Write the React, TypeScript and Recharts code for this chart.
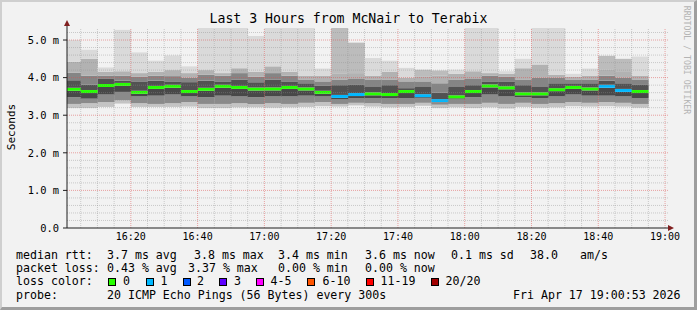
import React from 'react';
import { BarChart, Bar, XAxis, YAxis, ReferenceLine, Cell } from 'recharts';

// 5-minute slots (start time), values in milliseconds
const slotStart = [
  '16:00', '16:05', '16:10', '16:15', '16:20', '16:25', '16:30', '16:35', '16:40', '16:45',
  '16:50', '16:55', '17:00', '17:05', '17:10', '17:15', '17:20', '17:25', '17:30', '17:35',
  '17:40', '17:45', '17:50', '17:55', '18:00', '18:05', '18:10', '18:15', '18:20', '18:25',
  '18:30', '18:35', '18:40', '18:45', '18:50',
];
const minRtt = [
  3.19, 3.19, 3.22, 3.31, 3.22, 3.22, 3.22, 3.23, 3.19, 3.19,
  3.21, 3.21, 3.20, 3.21, 3.22, 3.24, 3.23, 3.26, 3.23, 3.21,
  3.22, 3.25, 3.19, 3.21, 3.19, 3.21, 3.18, 3.22, 3.20, 3.21,
  3.24, 3.23, 3.24, 3.23, 3.20,
];
const lowOuter = [
  3.30, 3.32, 3.35, 3.40, 3.32, 3.30, 3.32, 3.35, 3.30, 3.30,
  3.32, 3.30, 3.32, 3.30, 3.33, 3.35, 3.30, 3.33, 3.32, 3.30,
  3.30, 3.33, 3.28, 3.30, 3.30, 3.33, 3.30, 3.33, 3.30, 3.32,
  3.35, 3.33, 3.35, 3.33, 3.30,
];
const lowInner = [
  3.48, 3.44, 3.55, 3.62, 3.50, 3.52, 3.55, 3.50, 3.48, 3.52,
  3.50, 3.48, 3.50, 3.50, 3.52, 3.50, 3.42, 3.45, 3.45, 3.45,
  3.45, 3.45, 3.35, 3.42, 3.48, 3.55, 3.50, 3.48, 3.45, 3.50,
  3.55, 3.52, 3.52, 3.50, 3.45,
];
const medianRtt = [
  3.69, 3.63, 3.79, 3.82, 3.61, 3.74, 3.77, 3.63, 3.69, 3.77,
  3.74, 3.70, 3.70, 3.74, 3.70, 3.61, 3.50, 3.55, 3.57, 3.55,
  3.63, 3.52, 3.39, 3.49, 3.63, 3.78, 3.73, 3.57, 3.57, 3.68,
  3.74, 3.70, 3.77, 3.66, 3.63,
];
const highInner = [
  3.93, 3.81, 3.98, 3.92, 3.90, 3.92, 3.90, 3.88, 3.92, 3.90,
  3.95, 3.88, 3.95, 3.90, 3.85, 3.78, 3.80, 3.82, 3.75, 3.80,
  3.72, 3.75, 3.60, 3.75, 3.80, 3.90, 3.90, 3.80, 3.75, 3.85,
  3.85, 3.85, 3.92, 3.85, 3.82,
];
const highMid = [
  4.13, 4.05, 4.05, 4.05, 4.02, 4.05, 4.04, 4.00, 4.08, 4.05,
  4.12, 4.02, 4.12, 4.05, 3.95, 3.90, 3.95, 3.98, 3.95, 3.95,
  3.90, 3.90, 3.85, 3.95, 3.98, 4.05, 4.02, 3.95, 4.00, 4.00,
  3.95, 3.95, 4.05, 4.00, 3.95,
];
const highOuter = [
  4.42, 4.50, 4.15, 4.17, 4.12, 4.15, 4.20, 4.12, 4.20, 4.12,
  4.25, 4.15, 4.30, 4.15, 4.05, 4.05, 4.10, 4.12, 4.05, 4.15,
  4.00, 4.02, 4.05, 4.10, 4.17, 4.12, 4.10, 4.25, 4.35, 4.08,
  4.02, 4.05, 4.22, 4.15, 4.05,
];
const maxRtt = [
  5.00, 4.74, 4.27, 5.27, 4.67, 4.45, 4.59, 4.30, 5.90, 5.80,
  5.70, 5.11, 5.80, 5.60, 5.70, 4.24, 5.90, 4.93, 4.52, 4.45,
  4.26, 4.21, 4.19, 4.21, 5.80, 5.60, 4.17, 4.50, 5.90, 5.70,
  4.10, 4.24, 4.58, 4.50, 4.56,
];
const lossCount = [
  0, 0, 0, 0, 0, 0, 0, 0, 0, 0,
  0, 0, 0, 0, 0, 0, 1, 1, 0, 0,
  0, 1, 1, 0, 0, 0, 0, 0, 0, 0,
  0, 0, 1, 1, 0,
];

const lossLabels = ['0', '1', '2', '3', '4-5', '6-10', '11-19', '20/20'];
const lossColors = ['#26ff00', '#00b8ff', '#0059ff', '#5e00ff', '#ff00ff', '#ff5500', '#ff0000', '#a10000'];
const lossLimits = [0, 1, 2, 3, 5, 10, 19, 20];

const timeTicks = ['16:20', '16:40', '17:00', '17:20', '17:40', '18:00', '18:20', '18:40', '19:00'];
const rttTicks = [0, 1, 2, 3, 4, 5];

const toMin = (s: string) => {
  const [h, m] = s.split(':').map(Number);
  return (h - 16) * 60 + m;
};
const fmtTime = (v: number) => {
  const h = 16 + Math.floor(v / 60);
  const m = Math.round(v % 60);
  return `${h}:${m < 10 ? '0' : ''}${m}`;
};
const lossColor = (n: number) => lossColors[lossLimits.findIndex(l => n <= l)];

const X_START = 53 / 60; // 16:00:53
const X_END = 180 + 53 / 60;
const MED_HALF = 0.04;

const rows = slotStart.map((s, i) => ({
  t: toMin(s) + 2.5,
  base: minRtt[i],
  s1: lowOuter[i] - minRtt[i],
  s2: lowInner[i] - lowOuter[i],
  s3: medianRtt[i] - MED_HALF - lowInner[i],
  med: MED_HALF * 2,
  s4: highInner[i] - medianRtt[i] - MED_HALF,
  s5: highMid[i] - highInner[i],
  s6: highOuter[i] - highMid[i],
  s7: maxRtt[i] - highOuter[i],
  loss: lossCount[i],
}));

const minorX: number[] = [];
for (let m = 5; m <= 180; m += 5) if (m % 20 !== 0) minorX.push(m);
const majorX = timeTicks.map(toMin);
const minorY: number[] = [];
for (let k = 1; k <= 26; k++) if (k % 5 !== 0) minorY.push(k / 5);
const majorY = rttTicks.filter(v => v > 0);

const mono = '"DejaVu Sans Mono", monospace';
const legendRow: React.CSSProperties = { position: 'absolute', fontFamily: mono, fontSize: 11.6, lineHeight: '13px', whiteSpace: 'pre', color: '#000' };

const Txt = ({ x, y, children }: { x: number; y: number; children: React.ReactNode }) => (
  <div style={{ ...legendRow, left: x, top: y - 6.5 }}>{children}</div>
);

const boxX = [108, 145.5, 182.5, 219, 256, 307, 366, 430.5];
const labelX = [123, 160.5, 197, 234, 270.5, 322.5, 380.5, 445.5];

export default function App() {
  return (
    <div style={{ position: 'relative', width: 697, height: 310, background: '#f2f2f2', boxSizing: 'border-box', overflow: 'hidden' }}>
      <style>{'body{margin:0}'}</style>
      <div style={{ position: 'absolute', left: 0, top: 0, width: 697, height: 310, boxSizing: 'border-box', borderTop: '2px solid #cfcfcf', borderLeft: '2px solid #cfcfcf', borderRight: '3px solid #9e9e9e', borderBottom: '3px solid #9e9e9e' }} />
      <div style={{ position: 'absolute', left: 0, width: 697, top: 11, textAlign: 'center', fontFamily: mono, fontSize: 13.2, lineHeight: '16px', color: '#000' }}>
        Last 3 Hours from McNair to Terabix
      </div>
      <div style={{ position: 'absolute', left: 11, top: 127, transform: 'translate(-50%, -50%) rotate(-90deg)', fontFamily: mono, fontSize: 11, whiteSpace: 'pre', color: '#000' }}>
        Seconds
      </div>
      <div style={{ position: 'absolute', left: 687, top: 60, transform: 'translate(-50%, -50%) rotate(90deg)', fontFamily: mono, fontSize: 8.2, whiteSpace: 'pre', color: '#b4b4b4' }}>
        RRDTOOL / TOBI OETIKER
      </div>
      <div style={{ position: 'absolute', left: 0, top: 0 }}>
        <BarChart width={697} height={310} data={rows} margin={{ top: 28, right: 29, bottom: 62, left: 0 }} barCategoryGap={0} barGap={0}>
          <XAxis dataKey="t" type="number" domain={[X_START, X_END]} allowDataOverflow ticks={majorX} interval={0}
            tickFormatter={fmtTime} height={20} axisLine={{ stroke: '#1f1f1f' }} tickLine={false} tickSize={2} tickMargin={3}
            tick={{ fontSize: 10, fill: '#000', fontFamily: mono }} />
          <YAxis type="number" domain={[0, 5.32]} allowDataOverflow ticks={rttTicks} interval={0} width={67}
            tickFormatter={(v: number) => (v === 0 ? '0.0' : `${v.toFixed(1)} m`)} axisLine={{ stroke: '#1f1f1f' }}
            tickLine={{ stroke: '#1f1f1f' }} tickSize={4} tickMargin={4} tick={{ fontSize: 10.4, fill: '#000', fontFamily: mono }} />
          <Bar dataKey="base" stackId="s" fill="transparent" isAnimationActive={false} />
          <Bar dataKey="s1" stackId="s" fill="#c4c4c4" isAnimationActive={false} />
          <Bar dataKey="s2" stackId="s" fill="#8a8a8a" isAnimationActive={false} />
          <Bar dataKey="s3" stackId="s" fill="#484848" isAnimationActive={false} />
          <Bar dataKey="med" stackId="s" isAnimationActive={false}>
            {rows.map((r, i) => <Cell key={i} fill={lossColor(r.loss)} />)}
          </Bar>
          <Bar dataKey="s4" stackId="s" fill="#525252" isAnimationActive={false} />
          <Bar dataKey="s5" stackId="s" fill="#858585" isAnimationActive={false} />
          <Bar dataKey="s6" stackId="s" fill="#b2b2b2" isAnimationActive={false} />
          <Bar dataKey="s7" stackId="s" isAnimationActive={false}>
            {rows.map((r, i) => <Cell key={i} fill={r.loss > 0 ? '#bcbcbc' : '#dadada'} />)}
          </Bar>
          {minorY.map(v => <ReferenceLine key={'hy' + v} y={v} stroke="#8f8f8f" strokeOpacity={0.42} strokeDasharray="1 1" />)}
          {minorX.map(v => <ReferenceLine key={'vx' + v} x={v} stroke="#8f8f8f" strokeOpacity={0.42} strokeDasharray="1 1" />)}
          {majorY.map(v => <ReferenceLine key={'My' + v} y={v} stroke="#de4f4f" strokeOpacity={0.5} strokeDasharray="1 1" />)}
          {majorX.map(v => <ReferenceLine key={'Mx' + v} x={v} stroke="#de4f4f" strokeOpacity={0.5} strokeDasharray="1 1" />)}
        </BarChart>
      </div>
      <svg style={{ position: 'absolute', left: 0, top: 0, pointerEvents: 'none' }} width={697} height={310}>
        <line x1={67} y1={28} x2={67} y2={24} stroke="#1f1f1f" />
        <polygon points="64,26 70,26 67,20" fill="#801f1f" />
        <polygon points="668,225 668,231 674,228" fill="#801f1f" />
      </svg>

      <Txt x={16} y={255}>median rtt:</Txt>
      <Txt x={107} y={255}>3.7 ms avg</Txt>
      <Txt x={194} y={255}>3.8 ms max</Txt>
      <Txt x={278} y={255}>3.4 ms min</Txt>
      <Txt x={365} y={255}>3.6 ms now</Txt>
      <Txt x={451} y={255}>0.1 ms sd</Txt>
      <Txt x={530} y={255}>38.0</Txt>
      <Txt x={580} y={255}>am/s</Txt>

      <Txt x={16} y={268}>packet loss:</Txt>
      <Txt x={107} y={268}>0.43 % avg</Txt>
      <Txt x={188} y={268}>3.37 % max</Txt>
      <Txt x={278} y={268}>0.00 % min</Txt>
      <Txt x={365} y={268}>0.00 % now</Txt>

      <Txt x={16} y={281.5}>loss color:</Txt>
      {lossLabels.map((l, i) => (
        <React.Fragment key={l}>
          <div style={{ position: 'absolute', left: boxX[i], top: 277.5, width: 8, height: 8, boxSizing: 'border-box', border: '1px solid #000', background: lossColors[i] }} />
          <Txt x={labelX[i]} y={281.5}>{l}</Txt>
        </React.Fragment>
      ))}

      <Txt x={16} y={295}>probe:</Txt>
      <Txt x={107} y={295}>20 ICMP Echo Pings (56 Bytes) every 300s</Txt>
      <Txt x={513} y={295}>Fri Apr 17 19:00:53 2026</Txt>
    </div>
  );
}
